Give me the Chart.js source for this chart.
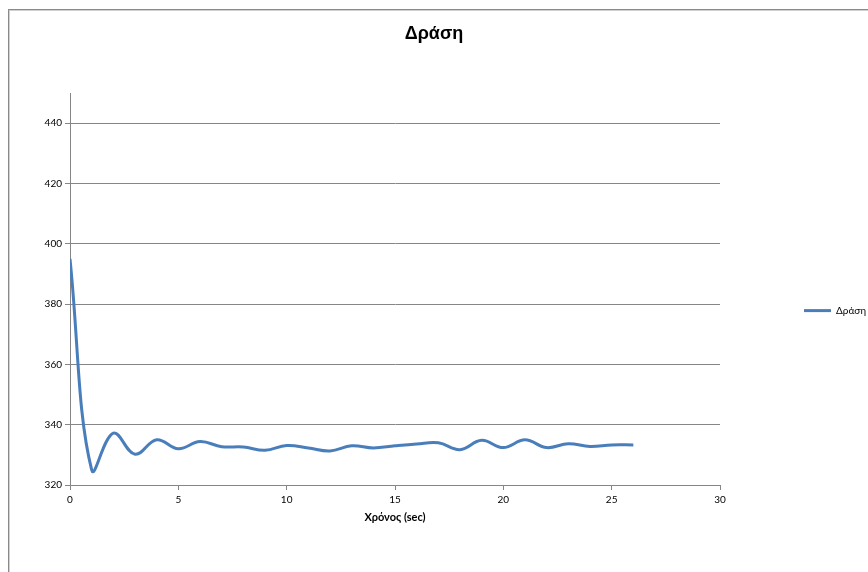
<!DOCTYPE html>
<html>
<head>
<meta charset="utf-8">
<script src="https://cdn.jsdelivr.net/npm/chart.js@4/dist/chart.umd.min.js"></script>
<style>
  html, body { margin: 0; padding: 0; background: #fff; }
  #wrap { position: relative; width: 868px; height: 572px; overflow: hidden; }
  #frame { position: absolute; left: 8px; top: 9px; width: 900px; height: 620px;
           border: 1px solid #8a8a8a; box-shadow: inset 1px 1px 0 #d0d0d0; }
  #c { position: absolute; left: 0; top: 0; }
</style>
</head>
<body>
<div id="wrap">
  <div id="frame"></div>
  <canvas id="c" width="868" height="572"></canvas>
</div>
<script>
// Time samples (seconds) and the response value at each one
const timeSec = [0, 1, 2, 3, 4, 5, 6, 7, 8, 9, 10, 11, 12, 13, 14, 15, 16, 17, 18, 19, 20, 21, 22, 23, 24, 25, 26];
const drasi   = [395, 325, 337.2, 330.2, 335, 332, 334.4, 332.7, 332.6, 331.5, 333.1, 332.3, 331.3, 333, 332.3, 333, 333.6, 334, 331.7, 334.8, 332.4, 335, 332.4, 333.7, 332.8, 333.3, 333.3];
const seriesName = 'Δράση';
const chartTitle = 'Δράση';
const xTitle = 'Χρόνος (sec)';

const points = timeSec.map((t, i) => ({ x: t, y: drasi[i] }));

const lineBlue = '#4a7ebb';
const gridGray = '#868686';
const labelFont = { family: 'Lato, "Open Sans", sans-serif', size: 10 };

// Keeps the right-hand legend column at a fixed width so the plot ends at the same place
const legendColumn = {
  id: 'legendColumn',
  beforeLayout(chart) {
    const lg = chart.legend;
    if (lg && !lg._fixedWidth) {
      const fit = lg.fit.bind(lg);
      lg.fit = function () { fit(); this.width = 148; };
      lg._fixedWidth = true;
    }
  }
};

new Chart(document.getElementById('c'), {
  type: 'line',
  data: {
    datasets: [{
      label: seriesName,
      data: points,
      borderColor: lineBlue,
      backgroundColor: lineBlue,
      borderWidth: 3,
      pointRadius: 0,
      tension: 0.4
    }]
  },
  options: {
    responsive: false,
    animation: false,
    layout: { padding: { left: 0, right: 0, top: 0, bottom: 48 } },
    plugins: {
      title: {
        display: true,
        text: chartTitle,
        color: '#000',
        font: { family: '"Liberation Sans", Arial, sans-serif', size: 18, weight: 'bold' },
        padding: { top: 23.4, bottom: 48 }
      },
      legend: {
        position: 'right',
        fullSize: true,
        title: { display: true, text: ' ', font: { size: 1 }, padding: { top: 48, bottom: 48 } },
        labels: {
          color: '#000',
          font: labelFont,
          boxWidth: 27,
          boxHeight: 3,
          padding: 84,
          generateLabels(chart) {
            return Chart.defaults.plugins.legend.labels.generateLabels(chart)
              .map(item => Object.assign(item, { lineWidth: 0 }));
          }
        }
      },
      tooltip: { enabled: false }
    },
    scales: {
      x: {
        type: 'linear',
        min: 0,
        max: 30,
        ticks: { stepSize: 5, color: '#000', font: labelFont, padding: 4 },
        grid: { drawOnChartArea: false, drawTicks: true, tickLength: 5, color: gridGray },
        border: { color: gridGray },
        title: {
          display: true,
          text: xTitle,
          color: '#000',
          font: { family: labelFont.family, size: 11, weight: 'bold' },
          padding: { top: 4, bottom: 0 }
        },
        afterFit(scale) { scale.height = 39; }
      },
      y: {
        type: 'linear',
        min: 320,
        max: 450,
        ticks: { stepSize: 20, includeBounds: false, color: '#000', font: labelFont, padding: 3 },
        grid: { color: gridGray, tickLength: 5 },
        border: { color: gridGray },
        afterFit(scale) { scale.width = 70; }
      }
    }
  },
  plugins: [legendColumn]
});
</script>
</body>
</html>
